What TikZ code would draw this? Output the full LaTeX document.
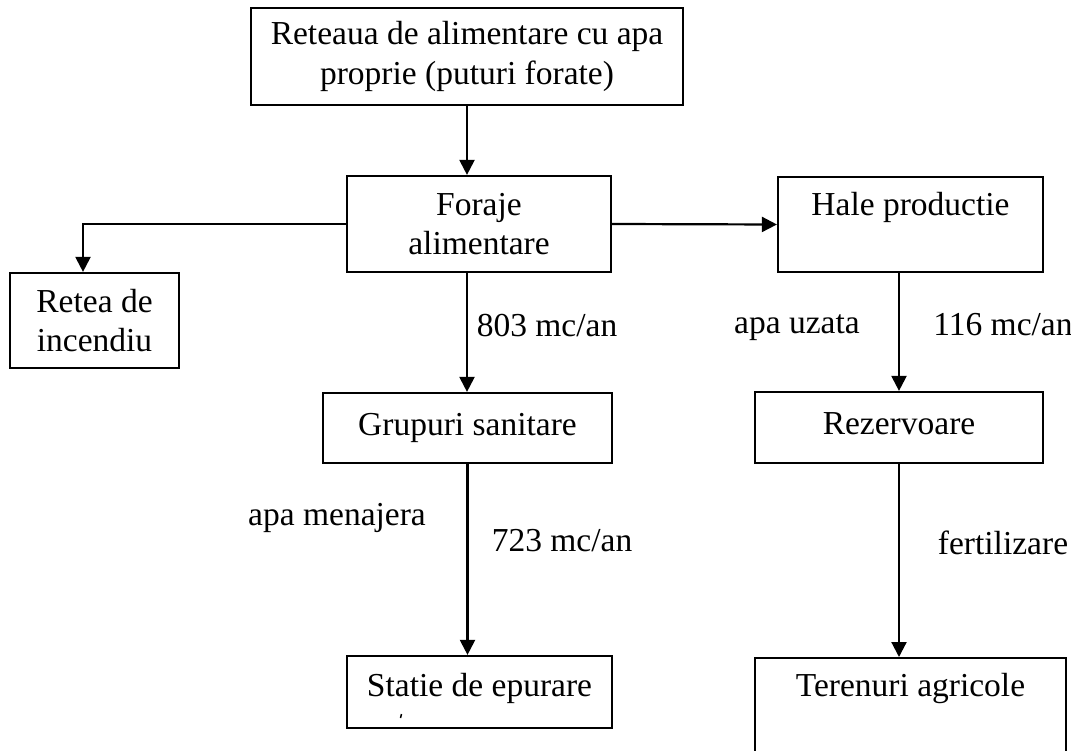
\documentclass[tikz,border=0pt]{standalone}
\usepackage{fontspec}
\setmainfont{Liberation Serif}
\usetikzlibrary{arrows.meta}
\begin{document}
\begin{tikzpicture}[x=1pt,y=-1pt,
 box/.style={draw, line width=2.2pt, inner sep=0pt, align=center, font=\fontsize{33.5}{39.5}\selectfont},
 lbl/.style={inner sep=0pt, font=\fontsize{33.5}{39.5}\selectfont},
 arr/.style={line width=2.2pt, -{Triangle[length=15pt,width=15pt]}},
]
\useasboundingbox (0,0) rectangle (1071,751);
\clip (0,0) rectangle (1071,751);
\node[box, minimum width=432pt, minimum height=97pt] (top) at (467,56.5) {Reteaua de alimentare cu apa\\proprie (puturi forate)};
\node[box, minimum width=264pt, minimum height=96pt] (foraje) at (479,224) {Foraje\\alimentare};
\node[box, minimum width=169pt, minimum height=95pt] (retea) at (94.5,320.5) {Retea de\\incendiu};
\node[box, minimum width=265pt, minimum height=95pt] (hale) at (910.5,224.5) {};
\node[lbl] (haletxt) at (910.5,207) {Hale productie};
\node[box, minimum width=289pt, minimum height=70pt] (grupuri) at (467.5,428) {Grupuri sanitare};
\node[box, minimum width=288pt, minimum height=71pt] (rez) at (899,427.5) {};
\node[lbl] (reztxt) at (899,424) {Rezervoare};
\node[box, minimum width=265pt, minimum height=72pt] (statie) at (479.5,692) {};
\node[lbl] (statietxt) at (479.5,688) {Statie de epurare};
\node[box, minimum width=311pt, minimum height=140pt, anchor=north] (ter) at (910.5,657) {};
\node[lbl] (tertxt) at (910.5,688) {Terenuri agricole};

\node[lbl] (l803) at (547,326) {803 mc/an};
\node[lbl] (luzata) at (797,328) {apa uzata};
\node[lbl] (l116) at (1003,325) {116 mc/an};
\node[lbl] (lmen) at (337,518) {apa menajera};
\node[lbl] (l723) at (562,541) {723 mc/an};
\node[lbl] (lfert) at (1003,543) {fertilizare};

\draw[arr] (top.south) -- (top.south |- foraje.north);
\draw[arr] (foraje.west) -| ([xshift=-11.5pt]retea.north);
\draw[arr] (foraje.east) -- (hale.west);
\draw[arr] (top.south |- foraje.south) -- (top.south |- grupuri.north);
\draw[arr] (rez.north |- hale.south) -- (rez.north);
\draw[arr] (grupuri.south) -- (grupuri.south |- statie.north);
\draw[arr] (rez.south) -- (rez.south |- ter.north);

\draw[line width=1.5pt] (401.5,714) -- (400.5,718);
\end{tikzpicture}
\end{document}
